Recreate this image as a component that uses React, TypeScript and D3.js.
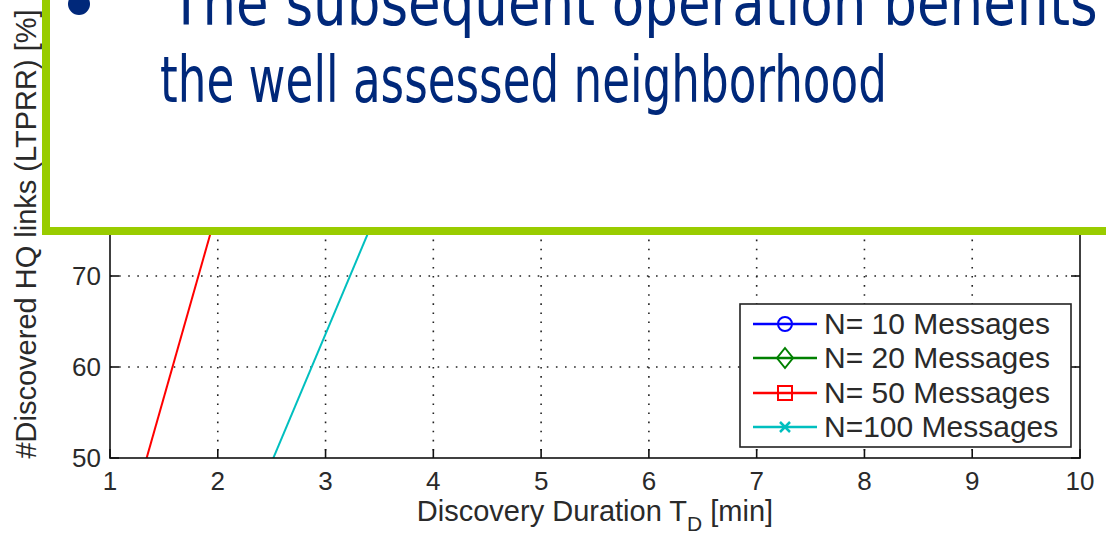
import React, { useLayoutEffect, useRef, useState } from "react";
import * as d3 from "d3";

const xTicks = [1, 2, 3, 4, 5, 6, 7, 8, 9, 10];
const yTicks = [50, 60, 70, 80, 90, 100];
const seriesNames = ["N= 10 Messages", "N= 20 Messages", "N= 50 Messages", "N=100 Messages"];
const seriesColors = ["#0000ff", "#008000", "#ff0000", "#00bfbf"];
const seriesMarkers = ["circle", "diamond", "square", "x"];
// values (x = duration in min, y = %)
const n10X = [1.0, 1.2, 1.5];
const n10Y = [80, 92, 97];
const n20X = [1.0, 1.3, 1.8];
const n20Y = [78, 90, 96];
const n50X = [1.1, 2.18];
const n50Y = [40, 85];
const n100X = [2.16, 3.76];
const n100Y = [40, 85];
const slideLines = ["The subsequent operation benefits from", "the well assessed neighborhood"];

const W = 1106, H = 535;
const m = { left: 110, right: 1080, top: 3, bottom: 458 };

function Marker({ type, x, y, color }: { type: string; x: number; y: number; color: string }) {
  if (type === "circle") return <circle cx={x} cy={y} r={7} fill="none" stroke={color} strokeWidth={2} />;
  if (type === "diamond")
    return <path d={`M${x},${y - 10}L${x + 8},${y}L${x},${y + 10}L${x - 8},${y}Z`} fill="none" stroke={color} strokeWidth={2} />;
  if (type === "square") return <rect x={x - 7} y={y - 7} width={14} height={14} fill="none" stroke={color} strokeWidth={2} />;
  return <path d={`M${x - 5},${y - 5}L${x + 5},${y + 5}M${x - 5},${y + 5}L${x + 5},${y - 5}`} stroke={color} strokeWidth={2.5} />;
}

export default function App() {
  const x = d3.scaleLinear().domain([1, 10]).range([m.left, m.right]);
  const y = d3.scaleLinear().domain([50, 100]).range([m.bottom, m.top]);
  const line = d3.line<[number, number]>().x((d) => x(d[0])).y((d) => y(d[1]));
  const series = [
    d3.zip(n10X, n10Y) as [number, number][],
    d3.zip(n20X, n20Y) as [number, number][],
    d3.zip(n50X, n50Y) as [number, number][],
    d3.zip(n100X, n100Y) as [number, number][],
  ];
  const meas2 = useRef<SVGTextElement>(null);
  const meas1 = useRef<SVGTextElement>(null);
  const [sx, setSx] = useState([0.85, 0.7]);
  useLayoutEffect(() => {
    if (meas1.current && meas2.current) {
      const w1 = meas1.current.getComputedTextLength();
      const w2 = meas2.current.getComputedTextLength();
      if (w1 > 0 && w2 > 0) setSx([425 / w1, 727 / w2]);
    }
  }, []);
  const tickFont = { fontFamily: "'Liberation Sans', Arial, sans-serif", fontSize: 26, fill: "#2a2a2a" };
  const legX = 740, legY = 304, legW = 331, legH = 143;
  const rowY = [324, 358, 393, 427];

  return (
    <svg width={W} height={H} style={{ position: "absolute", left: 0, top: 0, background: "#fff" }}>
      <defs>
        <clipPath id="plot">
          <rect x={m.left} y={m.top} width={m.right - m.left} height={m.bottom - m.top} />
        </clipPath>
      </defs>
      <rect x={0} y={0} width={W} height={H} fill="#fff" />
      {/* grid */}
      {xTicks.slice(1, -1).map((t) => (
        <line key={"gx" + t} x1={x(t)} x2={x(t)} y1={m.top} y2={m.bottom} stroke="#222" strokeWidth={1.6} strokeDasharray="1.6,7.5" />
      ))}
      {yTicks.slice(1, -1).map((t) => (
        <line key={"gy" + t} x1={m.left} x2={m.right} y1={y(t)} y2={y(t)} stroke="#222" strokeWidth={1.6} strokeDasharray="1.6,7.5" />
      ))}
      {/* series */}
      <g clipPath="url(#plot)">
        {series.map((s, i) => (
          <path key={i} d={line(s) || ""} fill="none" stroke={seriesColors[i]} strokeWidth={2} />
        ))}
      </g>
      {/* axes box */}
      <rect x={m.left} y={m.top} width={m.right - m.left} height={m.bottom - m.top} fill="none" stroke="#111" strokeWidth={1.6} />
      {xTicks.map((t) => (
        <g key={"tx" + t}>
          <line x1={x(t)} x2={x(t)} y1={m.bottom} y2={m.bottom - 9} stroke="#111" strokeWidth={1.6} />
          <line x1={x(t)} x2={x(t)} y1={m.top} y2={m.top + 9} stroke="#111" strokeWidth={1.6} />
          <text x={x(t)} y={490} textAnchor="middle" {...tickFont}>{t}</text>
        </g>
      ))}
      {yTicks.map((t) => (
        <g key={"ty" + t}>
          <line x1={m.left} x2={m.left + 9} y1={y(t)} y2={y(t)} stroke="#111" strokeWidth={1.6} />
          <line x1={m.right} x2={m.right - 9} y1={y(t)} y2={y(t)} stroke="#111" strokeWidth={1.6} />
          <text x={101} y={y(t) + 9} textAnchor="end" {...tickFont}>{t}</text>
        </g>
      ))}
      <text x={595} y={521} textAnchor="middle" {...tickFont} fontSize={29}>
        Discovery Duration T<tspan fontSize={21} dy={10}>D</tspan><tspan dy={-10}> [min]</tspan>
      </text>
      <text transform={`translate(36,${234}) rotate(-90)`} textAnchor="middle" {...tickFont} fontSize={29}>
        #Discovered HQ links (LTPRR) [%]
      </text>
      {/* legend */}
      <rect x={legX} y={legY} width={legW} height={legH} fill="#fff" stroke="#222" strokeWidth={1.6} />
      {seriesNames.map((n, i) => (
        <g key={n}>
          <line x1={753} x2={817} y1={rowY[i]} y2={rowY[i]} stroke={seriesColors[i]} strokeWidth={2.5} />
          <Marker type={seriesMarkers[i]} x={785} y={rowY[i]} color={seriesColors[i]} />
          <text x={824} y={rowY[i] + 10} {...tickFont} fontSize={30}>{n}</text>
        </g>
      ))}
      {/* slide overlay */}
      <rect x={46} y={-20} width={1200} height={251} fill="#fff" stroke="#99cc00" strokeWidth={8} />
      <circle cx={79} cy={4} r={11} fill="#00287a" />
      <g fontFamily="'DejaVu Sans', Verdana, sans-serif" fontSize={64}>
        <text ref={meas1} x={-3000} y={-2000}>The subsequent</text>
        <text ref={meas2} x={-3000} y={-1000}>{slideLines[1]}</text>
      </g>
      <g fontFamily="'DejaVu Sans', Verdana, sans-serif" fontSize={64} fill="#00287a">
        <text transform={`translate(170,25) scale(${sx[0]},1)`}>{slideLines[0]}</text>
        <text transform={`translate(160,102) scale(${sx[1]},1)`}>{slideLines[1]}</text>
      </g>
    </svg>
  );
}
